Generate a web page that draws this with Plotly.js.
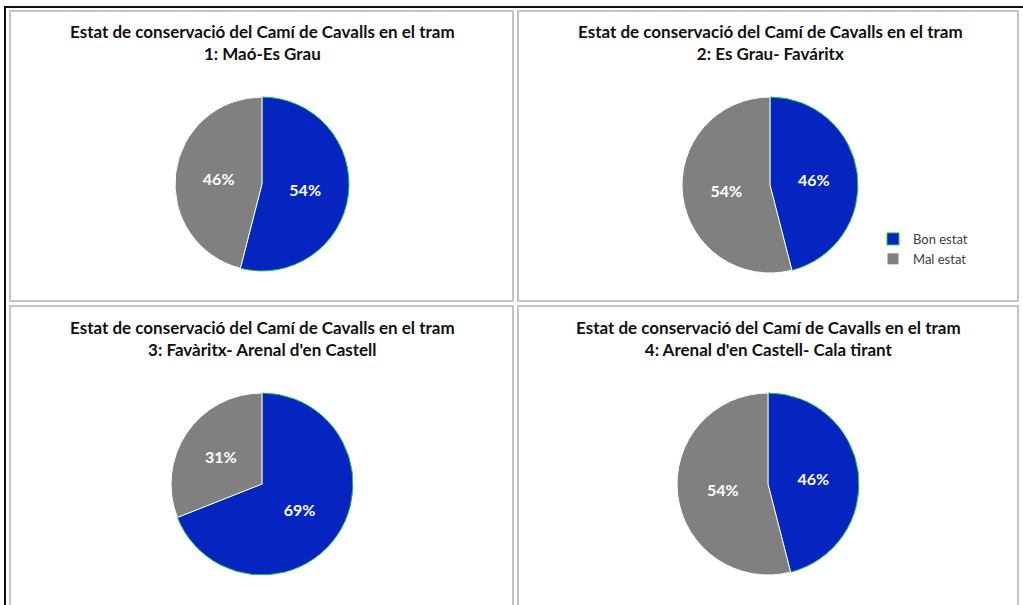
<!DOCTYPE html>
<html>
<head>
<meta charset="utf-8">
<script src="https://cdn.plot.ly/plotly-3.0.1.min.js"></script>
<style>
  html, body { margin: 0; padding: 0; background: #ffffff; }
  #chart { width: 1023px; height: 605px; }
</style>
</head>
<body>
<div id="chart"></div>
<script>
// ---- data ----
const categories = ["Bon estat", "Mal estat"];
const tram1 = [54, 46];
const tram2 = [46, 54];
const tram3 = [69, 31];
const tram4 = [46, 54];
const titles = [
  "Estat de conservació del Camí de Cavalls en el tram<br>1: Maó-Es Grau",
  "Estat de conservació del Camí de Cavalls en el tram<br>2: Es Grau- Faváritx",
  "Estat de conservació del Camí de Cavalls en el tram<br>3: Favàritx- Arenal d'en Castell",
  "Estat de conservació del Camí de Cavalls en el tram<br>4: Arenal d'en Castell- Cala tirant"
];
const sliceColors = ["#0625C0", "#808080"];
const sliceEdges = ["#2ecc2e", "#ffffff"];

// ---- layout helpers ----
const W = 1023, H = 605;
const px = v => v / W;
const py = v => 1 - v / H;

// pie centre / radius (pixels)
const pies = [
  { cx: 262, cy: 184, r: 87 },
  { cx: 770, cy: 185, r: 88 },
  { cx: 262, cy: 484, r: 91 },
  { cx: 768, cy: 484, r: 91 }
];
const seriesList = [tram1, tram2, tram3, tram4];

const traces = seriesList.map((vals, i) => {
  const p = pies[i];
  return {
    type: "pie",
    labels: categories,
    values: vals,
    sort: false,
    direction: "clockwise",
    rotation: 0,
    marker: { colors: sliceColors, line: { color: sliceEdges, width: 1 } },
    textinfo: "percent",
    texttemplate: "%{percent:.0%}",
    textposition: "inside",
    insidetextorientation: "horizontal",
    textfont: { color: "#ffffff", size: 16, family: "Lato, 'Open Sans', sans-serif", weight: "bold" },
    hoverinfo: "label+percent",
    showlegend: i === 1,
    domain: {
      x: [px(p.cx - p.r), px(p.cx + p.r)],
      y: [py(p.cy + p.r), py(p.cy - p.r)]
    }
  };
});

const titleCenters = [
  { x: 262, y: 43 },
  { x: 770, y: 43 },
  { x: 262, y: 338 },
  { x: 768, y: 338 }
];
const annotations = titles.map((t, i) => ({
  text: "<b>" + t + "</b>",
  x: px(titleCenters[i].x), y: py(titleCenters[i].y),
  xref: "paper", yref: "paper",
  xanchor: "center", yanchor: "middle",
  showarrow: false,
  align: "center",
  font: { family: "Lato, 'Open Sans', sans-serif", size: 17, color: "#111111" }
}));

const grey = "#c4c4c4";
function rect(x0, y0, x1, y1, color, w) {
  return { type: "rect", xref: "paper", yref: "paper",
           x0: px(x0), x1: px(x1), y0: py(y1), y1: py(y0),
           line: { color: color, width: w }, fillcolor: "rgba(0,0,0,0)", layer: "below" };
}
function line(x0, y0, x1, y1, color, w) {
  return { type: "line", xref: "paper", yref: "paper",
           x0: px(x0), x1: px(x1), y0: py(y0), y1: py(y1),
           line: { color: color, width: w }, layer: "below" };
}
const shapes = [
  rect(10, 11, 513, 301, grey, 2),
  rect(518, 11, 1018, 301, grey, 2),
  rect(10, 306, 513, 610, grey, 2),
  rect(518, 306, 1018, 610, grey, 2),
  line(5, 7, 5, 605, "#111111", 2),
  line(4, 7, 1023, 7, "#111111", 2)
];

const layout = {
  width: W, height: H,
  margin: { l: 0, r: 0, t: 0, b: 0 },
  paper_bgcolor: "#ffffff",
  showlegend: true,
  legend: {
    x: px(873), y: py(224), xanchor: "left", yanchor: "top",
    font: { family: "Lato, 'Open Sans', sans-serif", size: 13, color: "#404040" },
    bgcolor: "rgba(0,0,0,0)",
    tracegroupgap: 0, itemwidth: 30
  },
  annotations: annotations,
  shapes: shapes
};

Plotly.newPlot("chart", traces, layout, { displayModeBar: false, staticPlot: true });
</script>
</body>
</html>
